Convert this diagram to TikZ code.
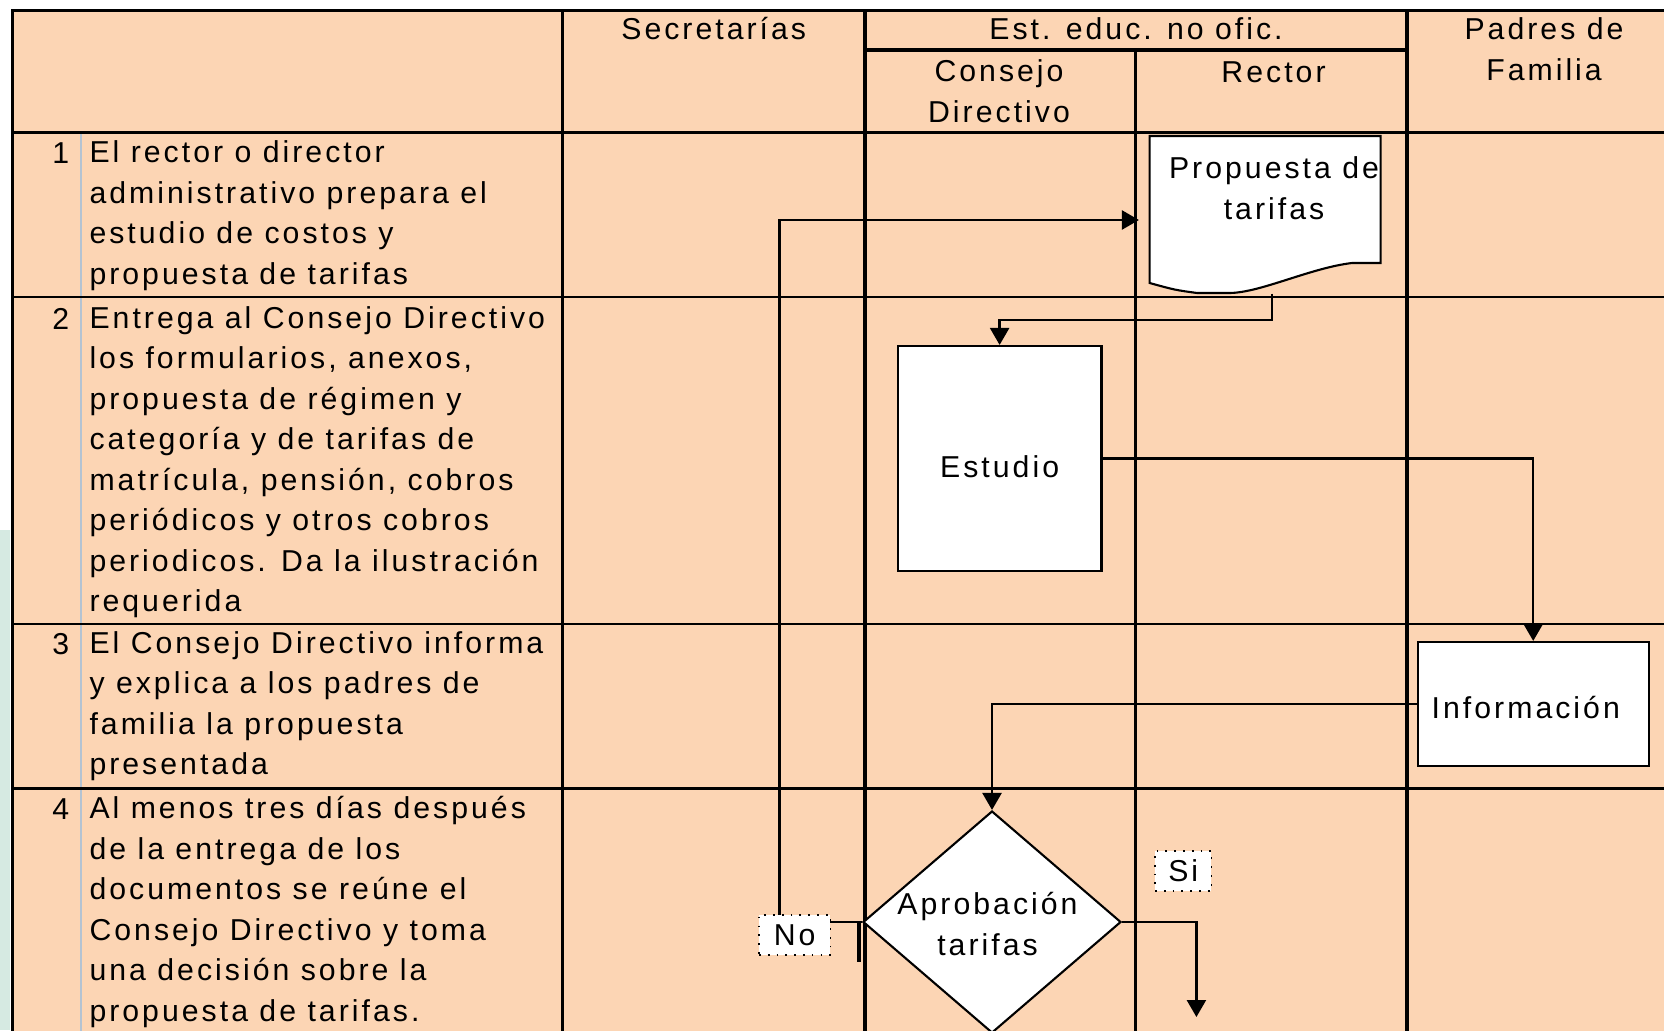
\documentclass[tikz,border=0pt]{standalone}
\usepackage{fontspec}
\setmainfont{Liberation Sans}[LetterSpace=10,Ligatures=NoCommon]
\usetikzlibrary{shapes.geometric,arrows.meta}
\definecolor{peach}{RGB}{252,213,180}
\definecolor{numrule}{RGB}{180,195,210}
\definecolor{watermark}{RGB}{214,234,226}
\newcommand{\topline}{\rule{0pt}{0.29cm}}
\tikzstyle{thickrule} = [line width=0.95pt]
\tikzstyle{midrule} = [line width=0.85pt]
\tikzstyle{thinrule} = [line width=0.6pt]
\tikzstyle{connector} = [line width=0.7pt, -{Triangle[length=0.17cm,width=0.19cm]}]
\tikzstyle{heading} = [anchor=north, align=center, inner sep=0pt, execute at begin node=\topline]
\tikzstyle{tasknum} = [anchor=north east, inner sep=0pt, execute at begin node=\topline]
\tikzstyle{task} = [anchor=north west, align=left, inner sep=0pt, execute at begin node=\topline]
\tikzstyle{process} = [rectangle, draw, fill=white, line width=0.6pt, inner sep=0pt]
\tikzstyle{decision} = [diamond, draw, fill=white, line width=0.6pt, inner sep=0pt, minimum width=2.58cm, minimum height=2.22cm]
\tikzstyle{answer} = [rectangle, draw, dotted, fill=white, line width=0.5pt, inner sep=0pt, minimum height=0.40cm]

\begin{document}
\begin{tikzpicture}[font=\fontsize{8.6}{11.52}\selectfont]
\clip (0,0) rectangle (16.64,10.30);
\fill[watermark] (0,0) rectangle (0.10,5.0);
\fill[peach] (0.127,-0.1) rectangle (16.8,10.194);
\draw[numrule, line width=0.6pt] (0.806,8.974) -- (0.806,-0.1);
\draw[thickrule] (0.127,-0.1) -- (0.127,10.194) -- (16.8,10.194);
\draw[thickrule] (5.624,10.194) -- (5.624,-0.1);
\draw[thickrule] (8.649,10.194) -- (8.649,-0.1);
\draw[thickrule] (14.07,10.194) -- (14.07,-0.1);
\draw[thickrule] (8.649,9.80) -- (14.07,9.80);
\draw[thinrule] (11.355,9.80) -- (11.355,-0.1);
\draw[thickrule] (0.127,8.974) -- (16.8,8.974);
\draw[midrule] (0.127,7.33) -- (16.8,7.33);
\draw[thinrule] (0.127,4.06) -- (16.8,4.06);
\draw[thinrule] (0.127,2.415) -- (16.8,2.415);

\node[heading] (secretarias) at (7.137,10.20) {Secretarías};
\node[heading] (est-educ) at (11.36,10.20) {Est. educ. no ofic.};
\node[heading] (padres) at (15.44,10.13) {Padres de\\Familia};
\node[heading] (consejo) at (9.99,9.71) {Consejo\\Directivo};
\node[heading] (rector) at (12.735,9.775) {Rector};

\node[tasknum] (n1) at (0.70,8.963) {1};
\node[task] (t1) at (0.888,8.898) {El rector o director\\administrativo prepara el\\estudio de costos y\\propuesta de tarifas};
\node[tasknum] (n2) at (0.70,7.307) {2};
\node[task] (t2) at (0.888,7.242) {Entrega al Consejo Directivo\\los formularios, anexos,\\propuesta de régimen y\\categoría y de tarifas de\\matrícula, pensión, cobros\\periódicos y otros cobros\\periodicos. Da la ilustración\\requerida};
\node[tasknum] (n3) at (0.70,4.057) {3};
\node[task] (t3) at (0.888,3.992) {El Consejo Directivo informa\\y explica a los padres de\\familia la propuesta\\presentada};
\node[tasknum] (n4) at (0.70,2.407) {4};
\node[task] (t4) at (0.888,2.342) {Al menos tres días después\\de la entrega de los\\documentos se reúne el\\Consejo Directivo y toma\\una decisión sobre la\\propuesta de tarifas.};

\node (prop) [minimum width=2.31cm, minimum height=1.57cm, inner sep=0pt] at (12.651,8.155) {};
\draw[line width=0.6pt, fill=white] (11.496,8.94) -- (13.806,8.94) -- (13.806,7.67) -- (13.52,7.67) .. controls (13.1,7.62) and (12.6,7.37) .. (12.29,7.37) -- (11.97,7.37) .. controls (11.75,7.40) .. (11.496,7.47) -- cycle;
\node[align=center, inner sep=0pt] (prop-text) at (12.74,8.42) {Propuesta de\\tarifas};

\node[process, minimum width=2.037cm, minimum height=2.25cm, text height=0.38cm] (est) at (9.996,5.715) {Estudio};
\node[process, minimum width=2.31cm, minimum height=1.24cm, text width=2.03cm, align=left, inner xsep=0.14cm, text height=0.29cm] (info) at (15.332,3.26) {Información};
\node[decision] (apr) at (9.92,1.08) {};
\node[align=center, inner sep=0pt] (apr-text) at (9.875,1.06) {Aprobación\\tarifas};

\coordinate (no-turn) at (7.793,1.08);
\coordinate (si-end) at (11.964,0.13);

\draw[connector] ([xshift=0.07cm]prop.south) -- ++(0,-0.263) -| (est.north);
\draw[connector] (est.east) -| (info.north);
\draw[connector] (info.west) -| (apr.north);
\draw[connector] (apr.west) -- (no-turn) |- ([shift={(-0.1,-0.055)}]prop.west);
\draw[connector] (apr.east) -| (si-end);
\draw[line width=1.4pt] ([xshift=-0.03cm]apr.west) -- ++(0,-0.40);

\node[answer, minimum width=0.714cm] (no) at (7.947,0.95) {No};
\node[answer, minimum width=0.564cm] (si) at (11.832,1.593) {Si};
\end{tikzpicture}
\end{document}
